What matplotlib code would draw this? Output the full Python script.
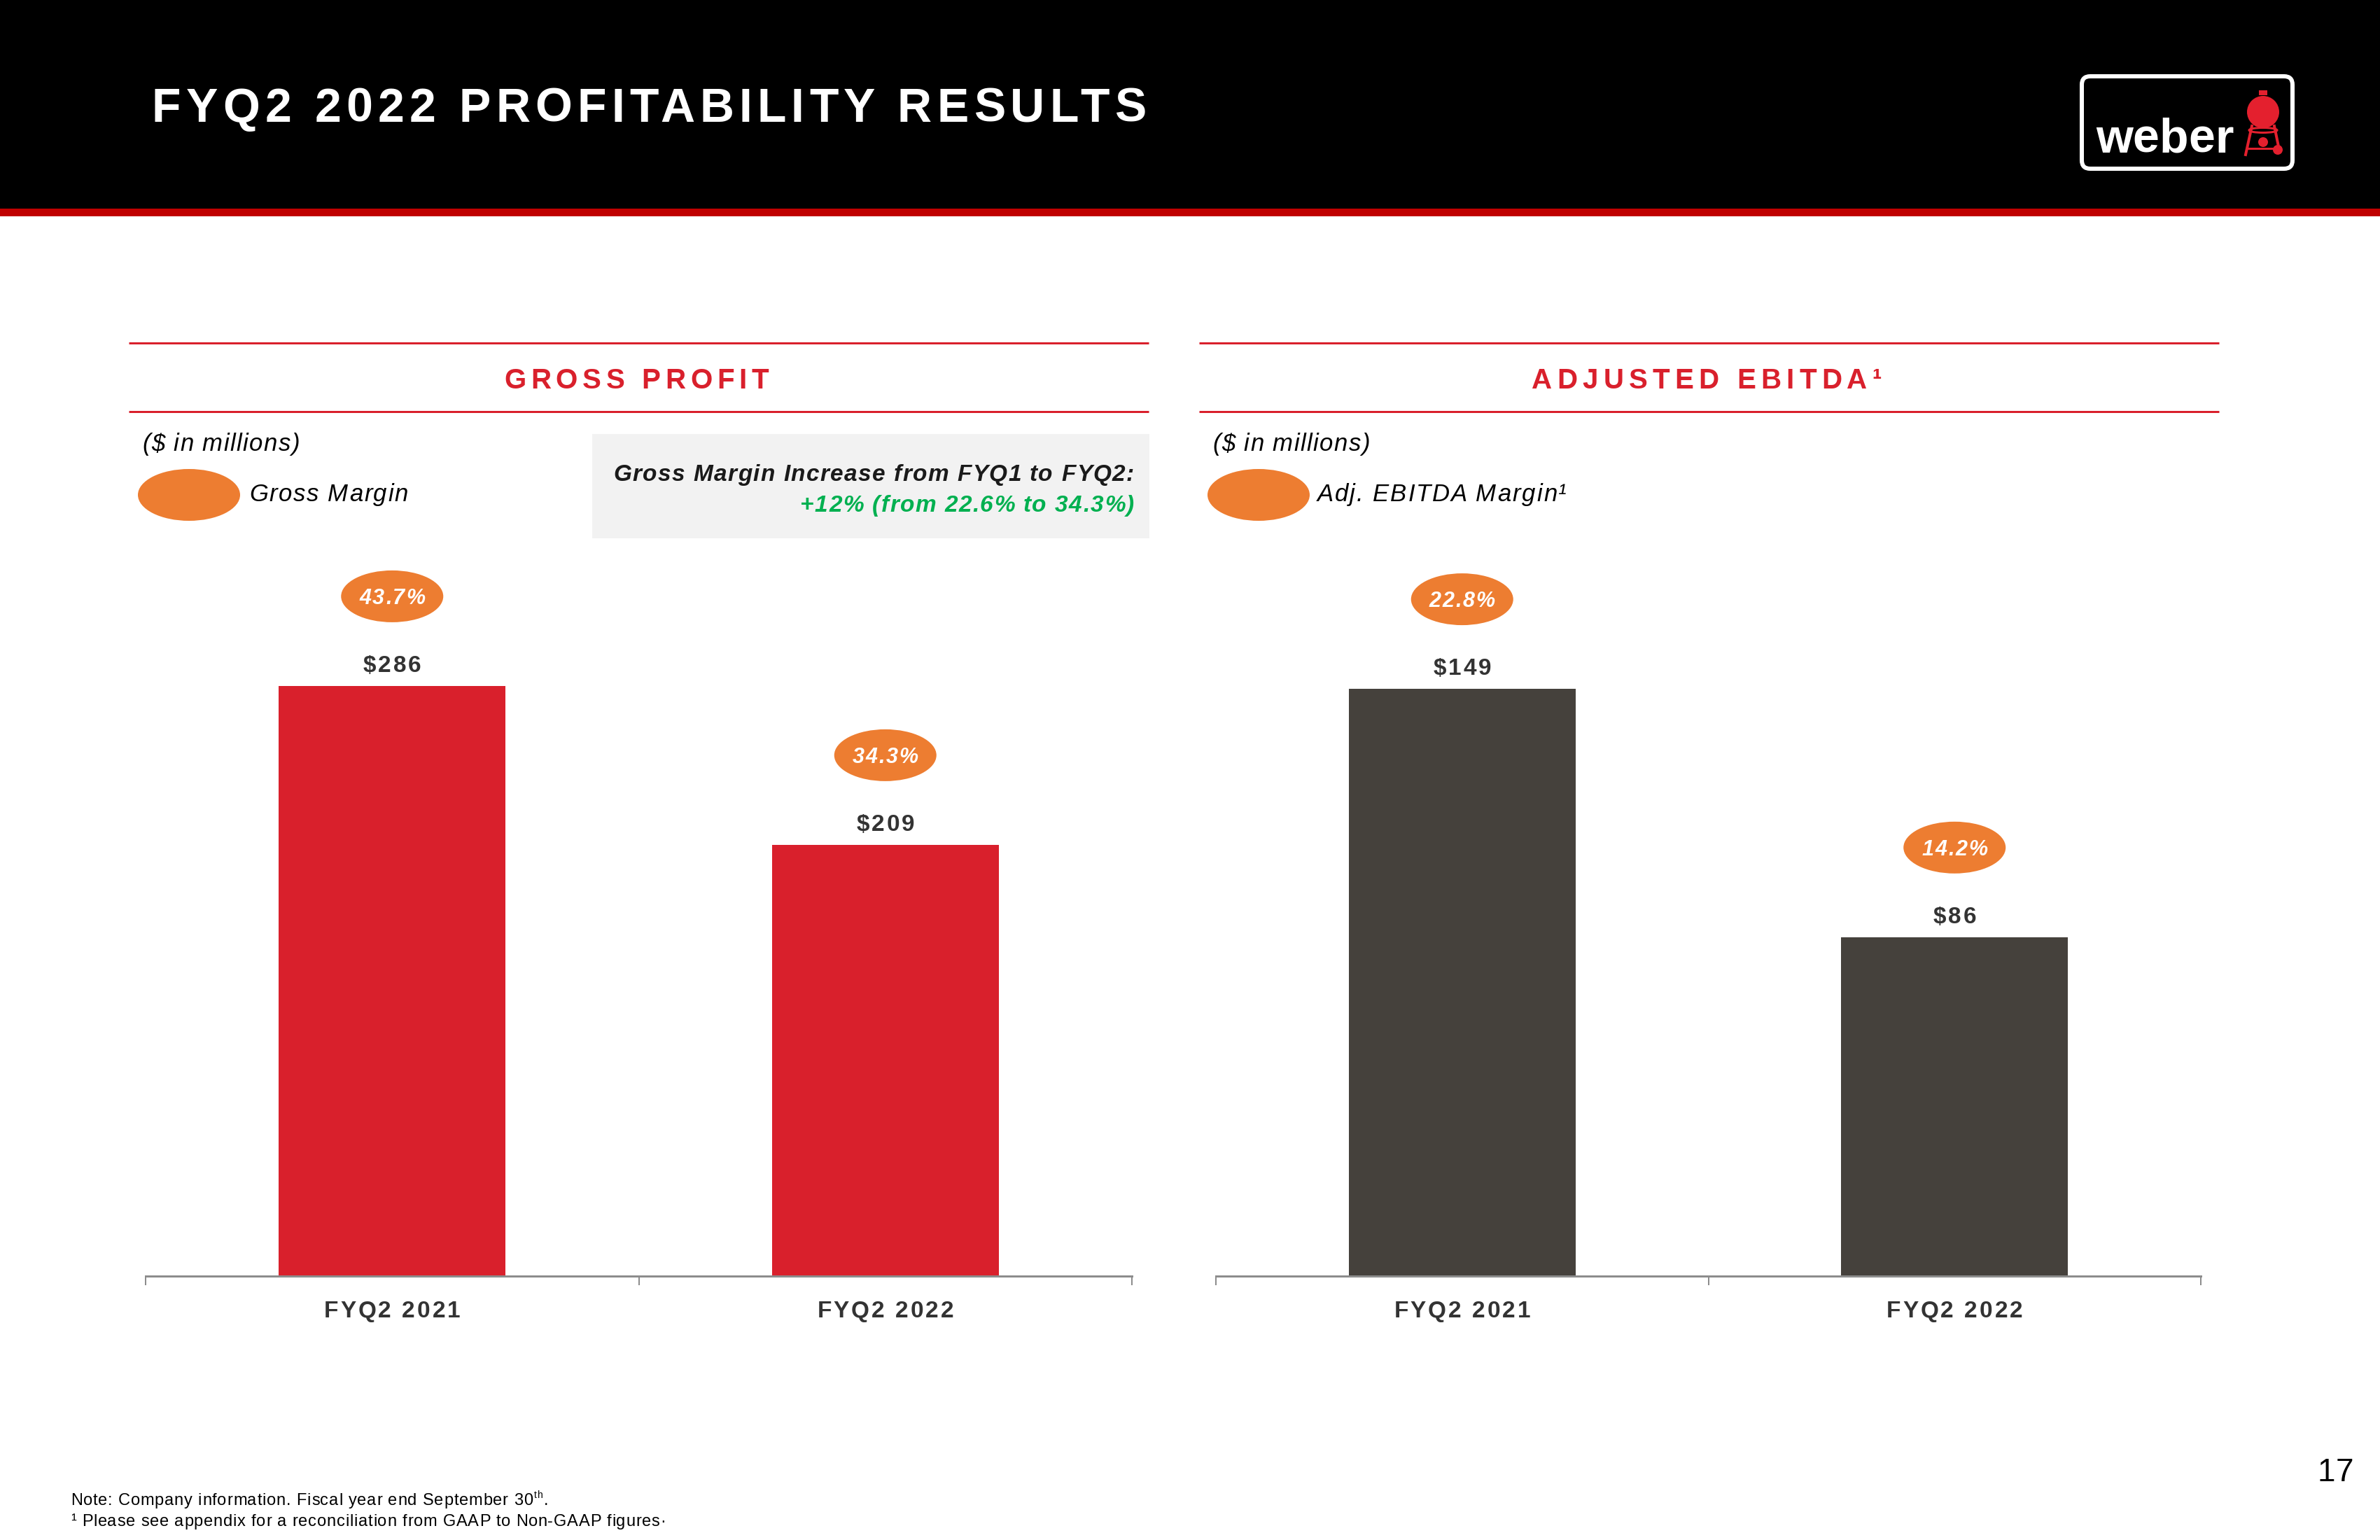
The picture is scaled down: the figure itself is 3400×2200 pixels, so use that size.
import matplotlib
matplotlib.use('Agg')
import matplotlib.pyplot as plt
from matplotlib import font_manager as fm
from matplotlib.font_manager import FontProperties
from matplotlib.patches import Rectangle, Ellipse, FancyBboxPatch, Circle

W, H = 3400, 2200
DPI = 100

# data
quarters = ['FYQ2 2021', 'FYQ2 2022']
gross_profit = [286, 209]
gross_margin = [43.7, 34.3]
adj_ebitda = [149, 86]
ebitda_margin = [22.8, 14.2]

RED = '#D9202C'
DARK_BAR = '#45413C'
ORANGE = '#ED7D31'
GREEN = '#00B050'
TXT = '#333333'
AXIS_GRAY = '#8C8C8C'

names = {f.name for f in fm.fontManager.ttflist}
NARROW = 'Liberation Sans Narrow' if 'Liberation Sans Narrow' in names else 'Liberation Sans'
REG = 'Liberation Sans'

fig = plt.figure(figsize=(W / DPI, H / DPI), dpi=DPI)
fig.patch.set_facecolor('white')
R = fig.canvas.get_renderer()

# canvas axes in pixel coords (origin top-left), on top of everything
cv = fig.add_axes([0, 0, 1, 1], zorder=5)
cv.set_xlim(0, W)
cv.set_ylim(H, 0)
cv.axis('off')
cv.patch.set_alpha(0)


def pt(px):
    return px * 72 / DPI


def tw(s, fp):
    return R.get_text_width_height_descent(s, fp, ismath=False)[0]


def ttext(x, y, s, size, ha='left', width=None, track=0.0, family=None,
          weight='normal', style='normal', color=TXT):
    # letter-spaced text, baseline at y
    fp = FontProperties(family=family or NARROW, size=size, weight=weight, style=style)
    n = len(s)
    nat = tw(s, fp)
    if width is not None and n > 1:
        trk = max((width - nat) / (n - 1), 0)
    else:
        trk = track * size * DPI / 72
    total = nat + trk * (n - 1)
    if ha == 'center':
        x0 = x - total / 2
    elif ha == 'right':
        x0 = x - total
    else:
        x0 = x
    for i, ch in enumerate(s):
        if ch == ' ':
            continue
        xr = x0 + tw(s[:i + 1], fp) + trk * i
        cv.text(xr, y, ch, fontproperties=fp, color=color, ha='right', va='baseline')
    return x0 + total


# header
cv.add_patch(Rectangle((0, 0), W, 298, fc='black', ec='none'))
cv.add_patch(Rectangle((0, 298), W, 11, fc='#C00000', ec='none'))
ttext(217, 174, 'FYQ2 2022 PROFITABILITY RESULTS', 49, width=1420, weight='bold', color='white')

# logo
cv.add_patch(FancyBboxPatch((2974, 109), 301, 132, boxstyle='round,pad=0,rounding_size=12',
                            fc='black', ec='white', lw=pt(6)))
ttext(2994, 218, 'weber', 49, weight='bold', color='white')
cv.add_patch(Circle((3233, 160), 23, fc='#E4202E', ec='none'))
cv.add_patch(Rectangle((3227, 129), 12, 7, fc='#E4202E', ec='none'))
cv.add_patch(Ellipse((3233, 186), 40, 7, fc='none', ec='#E4202E', lw=pt(3)))
cv.plot([3217, 3208], [180, 221], color='#E4202E', lw=pt(4))
cv.plot([3249, 3256], [180, 214], color='#E4202E', lw=pt(4))
cv.plot([3212, 3252], [212, 212], color='#E4202E', lw=pt(3))
cv.add_patch(Circle((3233, 203), 7, fc='#E4202E', ec='none'))
cv.add_patch(Circle((3254, 214), 7, fc='#E4202E', ec='none'))

# section headers
for x0, x1, title, tx0, tx1 in [(184, 1641, 'GROSS PROFIT', 720, 1098),
                                (1713, 3170, 'ADJUSTED EBITDA\u00b9', 2188, 2688)]:
    cv.plot([x0, x1], [490, 490], color=RED, lw=pt(3), solid_capstyle='butt')
    cv.plot([x0, x1], [588, 588], color=RED, lw=pt(3), solid_capstyle='butt')
    ttext(tx0, 555, title, 29, width=tx1 - tx0, weight='bold', color=RED)

# units + legends
ttext(203, 644, '($ in millions)', 25, width=225, style='italic', color='black')
ttext(1732, 644, '($ in millions)', 25, width=225, style='italic', color='black')
cv.add_patch(Ellipse((270, 707), 146, 74, fc=ORANGE, ec='none'))
cv.add_patch(Ellipse((1798, 707), 146, 74, fc=ORANGE, ec='none'))
ttext(356, 716, 'Gross Margin', 25, width=227, style='italic', color='black')
ttext(1882, 716, 'Adj. EBITDA Margin\u00b9', 25, width=356, style='italic', color='black')

# callout box
cv.add_patch(Rectangle((846, 620), 796, 149, fc='#F2F2F2', ec='none'))
ttext(1620, 687, 'Gross Margin Increase from FYQ1 to FYQ2:', 24, ha='right', width=744,
      weight='bold', style='italic', color='#1A1A1A')
ttext(1620, 731, '+12% (from 22.6% to 34.3%)', 24, ha='right', width=477,
      weight='bold', style='italic', color=GREEN)


def panel(left_px, right_px, values, margins, color, ymax):
    bottom_px = 1823
    top_px = 760
    ax = fig.add_axes([left_px / W, 1 - bottom_px / H, (right_px - left_px) / W,
                       (bottom_px - top_px) / H], zorder=1)
    ax.patch.set_alpha(0)
    ax.bar(range(len(values)), values, width=0.46, color=color)
    ax.set_xlim(-0.5, len(values) - 0.5)
    ax.set_ylim(0, ymax)
    for s in ['top', 'left', 'right']:
        ax.spines[s].set_visible(False)
    ax.spines['bottom'].set_color(AXIS_GRAY)
    ax.spines['bottom'].set_linewidth(pt(3))
    ax.set_yticks([])
    ax.set_xticks([])
    ax.set_xticks([i - 0.5 for i in range(len(values) + 1)], minor=True)
    ax.tick_params(axis='x', which='minor', length=pt(13), width=pt(2), color=AXIS_GRAY)
    for i, (v, m) in enumerate(zip(values, margins)):
        dx, dy = ax.transData.transform((i, v))
        bx, by = dx, H - dy
        ttext(bx, by - 20, f'${v}', 24, ha='center', track=0.09, weight='bold', color=TXT)
        cy = by - 128
        cv.add_patch(Ellipse((bx, cy), 146, 74, fc=ORANGE, ec='none'))
        ttext(bx, cy + 11, f'{m:.1f}%', 22, ha='center', track=0.06,
              weight='bold', style='italic', color='white')
        ttext(bx, 1882, quarters[i], 24, ha='center', track=0.09, weight='bold', color=TXT)
    return ax


panel(208, 1617, gross_profit, gross_margin, RED, 360.6)
panel(1737, 3144, adj_ebitda, ebitda_margin, DARK_BAR, 188.8)

# footnotes
xe = ttext(101, 2150, 'Note: Company information. Fiscal year end September 30', 17, width=660,
           color='black')
xe = ttext(xe + 2, 2140, 'th', 10, track=0.05, color='black')
ttext(xe + 2, 2150, '.', 17, color='black')
ttext(101, 2180, '\u00b9 Please see appendix for a reconciliation from GAAP to Non-GAAP figures\u00b7',
      17, width=850, color='black')

# page number
ttext(3362, 2116, '17', 33, ha='right', track=0.02, family=REG, color='black')

fig.savefig('out.png', dpi=DPI, facecolor='white')
